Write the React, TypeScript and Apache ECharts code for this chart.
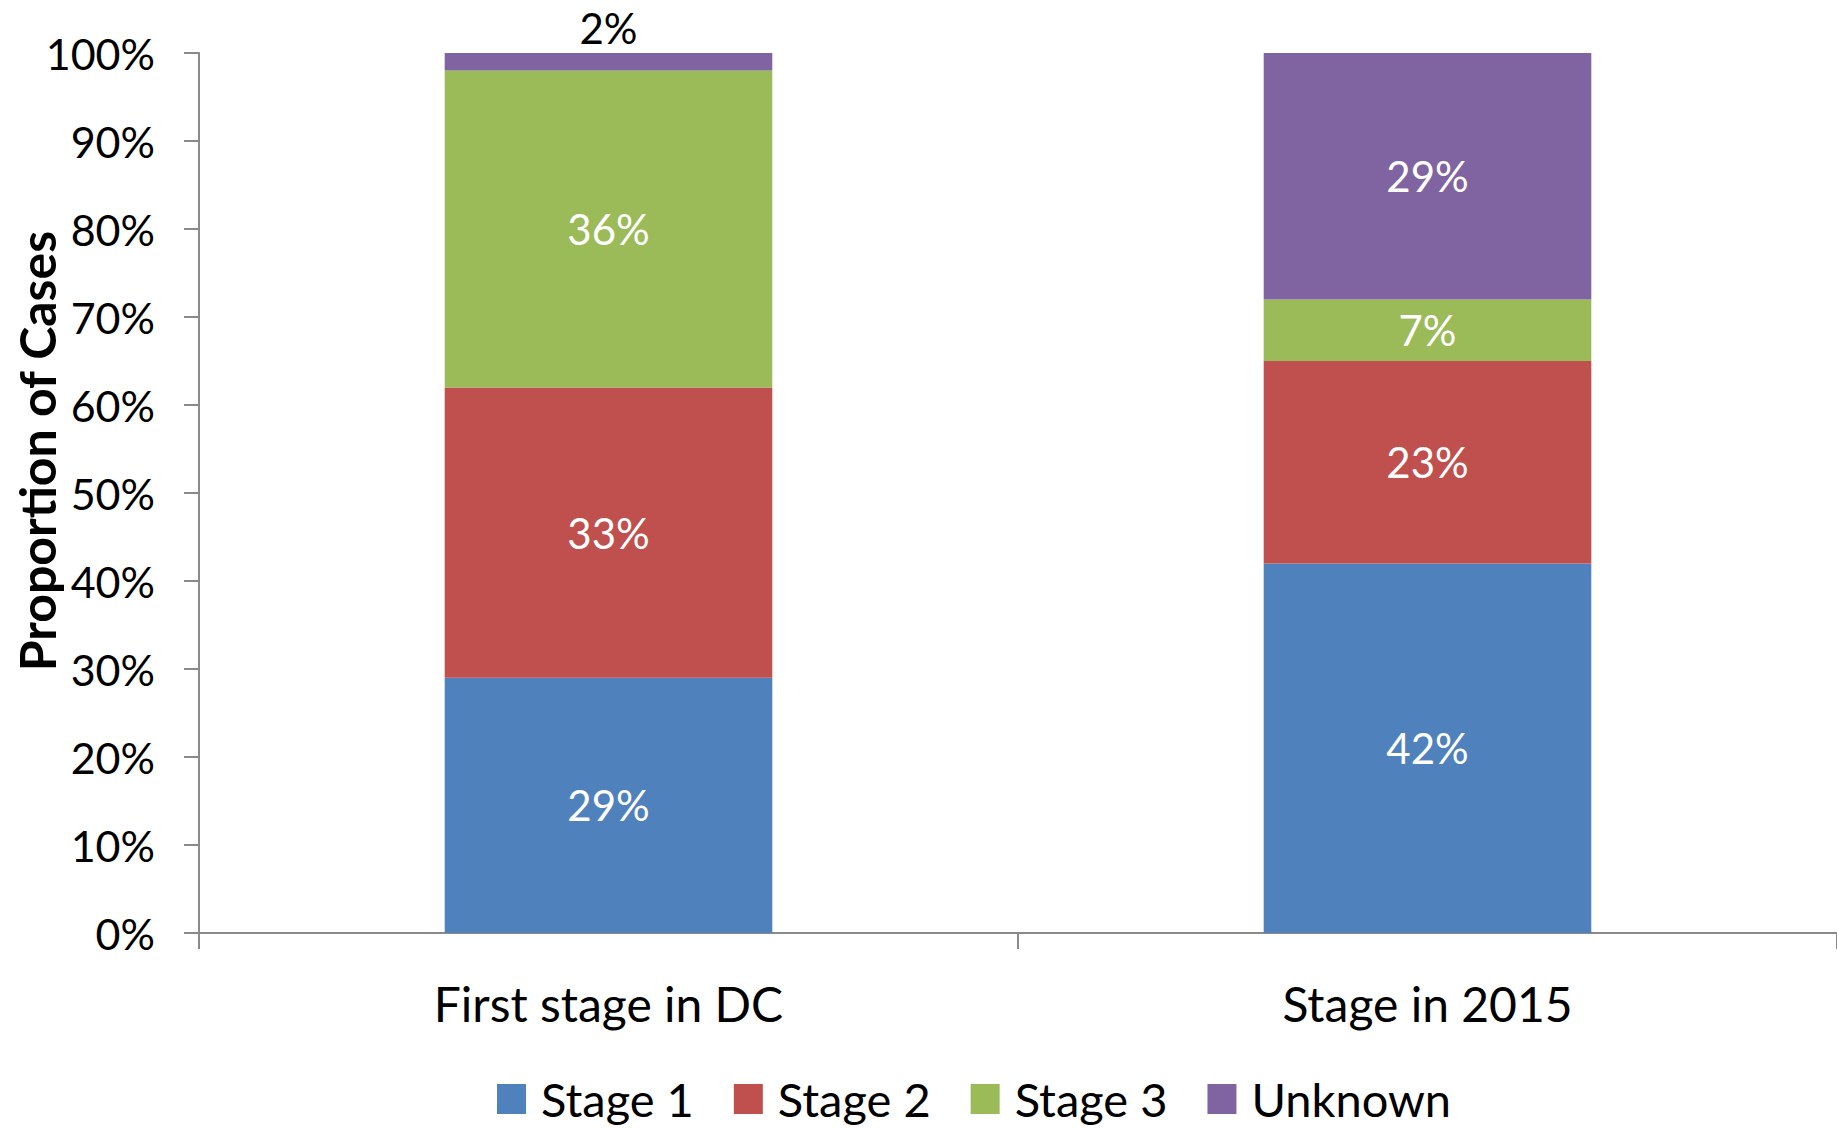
import React, { useEffect, useRef } from "react";
import * as echarts from "echarts";

const categories = ["First stage in DC", "Stage in 2015"];
const seriesNames = ["Stage 1", "Stage 2", "Stage 3", "Unknown"];
const stage1 = [29, 42];
const stage2 = [33, 23];
const stage3 = [36, 7];
const unknown = [2, 29];
const yTicks = { min: 0, max: 100, interval: 10 };
const colors = ["#4F81BD", "#C0504D", "#9BBB59", "#8064A2"];

const FONT = "Lato";

export default function App() {
  const ref = useRef<HTMLDivElement>(null);
  useEffect(() => {
    if (!ref.current) return;
    const chart = echarts.init(ref.current, undefined, { renderer: "svg" });
    const values = [stage1, stage2, stage3, unknown];
    const series = values.map((vals, i) => ({
      name: seriesNames[i],
      type: "bar",
      stack: "total",
      barWidth: "40%",
      itemStyle: { color: colors[i] },
      label: {
        show: true,
        position: "inside",
        color: "#fff",
        fontFamily: FONT,
        fontSize: 42,
        formatter: "{c}%",
      },
      data: vals.map((v, j) =>
        i === 3 && j === 0
          ? { value: v, label: { position: "top", color: "#000", distance: 4 } }
          : v
      ),
    }));
    chart.setOption({
      animation: false,
      backgroundColor: "#fff",
      textStyle: { fontFamily: FONT },
      grid: { left: 199, right: -10, top: 53, bottom: 195, containLabel: false },
      legend: {
        data: seriesNames,
        left: 492,
        top: 1070,
        itemWidth: 29,
        itemHeight: 30,
        itemGap: 40,
        icon: "rect",
        textStyle: {
          fontFamily: FONT,
          fontSize: 47,
          color: "#000",
          lineHeight: 48,
          padding: [0, 0, 0, 10],
        },
      },
      xAxis: {
        type: "category",
        data: categories,
        axisLine: { show: true, lineStyle: { color: "#8a8a8a", width: 2 } },
        axisTick: { show: true, length: 16, lineStyle: { color: "#8a8a8a", width: 2 } },
        axisLabel: { color: "#000", fontFamily: FONT, fontSize: 48, margin: 46, lineHeight: 48 },
      },
      yAxis: {
        type: "value",
        min: yTicks.min,
        max: yTicks.max,
        interval: yTicks.interval,
        axisLine: { show: true, lineStyle: { color: "#8a8a8a", width: 2 } },
        axisTick: { show: true, length: 15, lineStyle: { color: "#8a8a8a", width: 2 } },
        splitLine: { show: false },
        axisLabel: { color: "#000", fontFamily: FONT, fontSize: 43, margin: 44, formatter: "{value}%" },
      },
      graphic: [
        {
          type: "text",
          x: 37,
          y: 451,
          rotation: Math.PI / 2,
          style: {
            text: "Proportion of Cases",
            fontFamily: FONT,
            fontSize: 50,
            fontWeight: "bold",
            fill: "#000",
            align: "center",
            verticalAlign: "middle",
          },
        },
      ],
      series,
    });
    return () => chart.dispose();
  }, []);
  return <div ref={ref} style={{ width: 1837, height: 1128, position: "absolute", left: 0, top: 0 }} />;
}
